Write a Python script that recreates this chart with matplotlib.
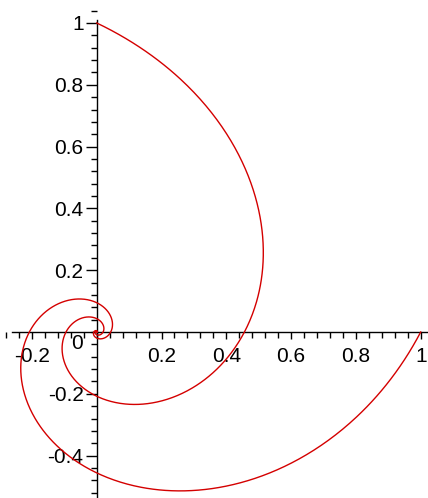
import numpy as np
import matplotlib
matplotlib.use("Agg")
import matplotlib.pyplot as plt
from matplotlib.ticker import FixedLocator, MultipleLocator

# ---- data ----
# Two logarithmic spirals r = exp(k * (theta - theta0)), each starting at radius 1,
# winding clockwise towards the origin.
spiral_start_angles_deg = [0.0, 90.0]   # start points (1,0) and (0,1)
growth_rate = 0.5                         # r shrinks by exp(-pi/4) ~ 0.456 per quarter turn
n_turns = 5

x_tick_values = [-0.2, 0.2, 0.4, 0.6, 0.8, 1.0]
x_tick_labels = ["-0.2", "0.2", "0.4", "0.6", "0.8", "1"]
y_tick_values = [-0.4, -0.2, 0.2, 0.4, 0.6, 0.8, 1.0]
y_tick_labels = ["-0.4", "-0.2", "0.2", "0.4", "0.6", "0.8", "1"]

plt.rcParams['font.family'] = ['Liberation Sans', 'DejaVu Sans']

fig = plt.figure(figsize=(4.28, 4.98), dpi=100)
ax = fig.add_axes([0, 0, 1, 1])

for a0 in spiral_start_angles_deg:
    t0 = np.deg2rad(a0)
    t = np.linspace(t0, t0 - 2 * np.pi * n_turns, 4000)
    r = np.exp(growth_rate * (t - t0))
    ax.plot(r * np.cos(t), r * np.sin(t), color='#d40000', lw=1.0, zorder=3)

ax.set_xlim(-0.2985, 1.0225)
ax.set_ylim(-0.5372, 1.0744)

for s in ['top', 'right']:
    ax.spines[s].set_visible(False)
ax.spines['left'].set_position(('data', 0))
ax.spines['bottom'].set_position(('data', 0))
ax.spines['left'].set_bounds(-0.54, 1.01)
ax.spines['bottom'].set_bounds(-0.26, 1.03)
for s in ['left', 'bottom']:
    ax.spines[s].set_linewidth(1.0)
    ax.spines[s].set_color('black')

ax.xaxis.set_major_locator(FixedLocator(x_tick_values))
ax.set_xticklabels(x_tick_labels)
ax.yaxis.set_major_locator(FixedLocator(y_tick_values))
ax.set_yticklabels(y_tick_labels)
ax.xaxis.set_minor_locator(MultipleLocator(0.04))
ax.yaxis.set_minor_locator(MultipleLocator(0.04))

ax.tick_params(axis='x', which='major', direction='out', length=5, width=1.0, pad=6, labelsize=15, colors='black')
ax.tick_params(axis='x', which='minor', direction='out', length=4, width=1.0)
ax.tick_params(axis='y', which='major', direction='out', length=8, width=1.0, pad=1.5, labelsize=15, colors='black')
ax.tick_params(axis='y', which='minor', direction='out', length=4, width=1.0)

ax.text(-0.061, -0.036, "0", ha='center', va='center', fontsize=15, color='black')

fig.savefig("out.png", dpi=100)
